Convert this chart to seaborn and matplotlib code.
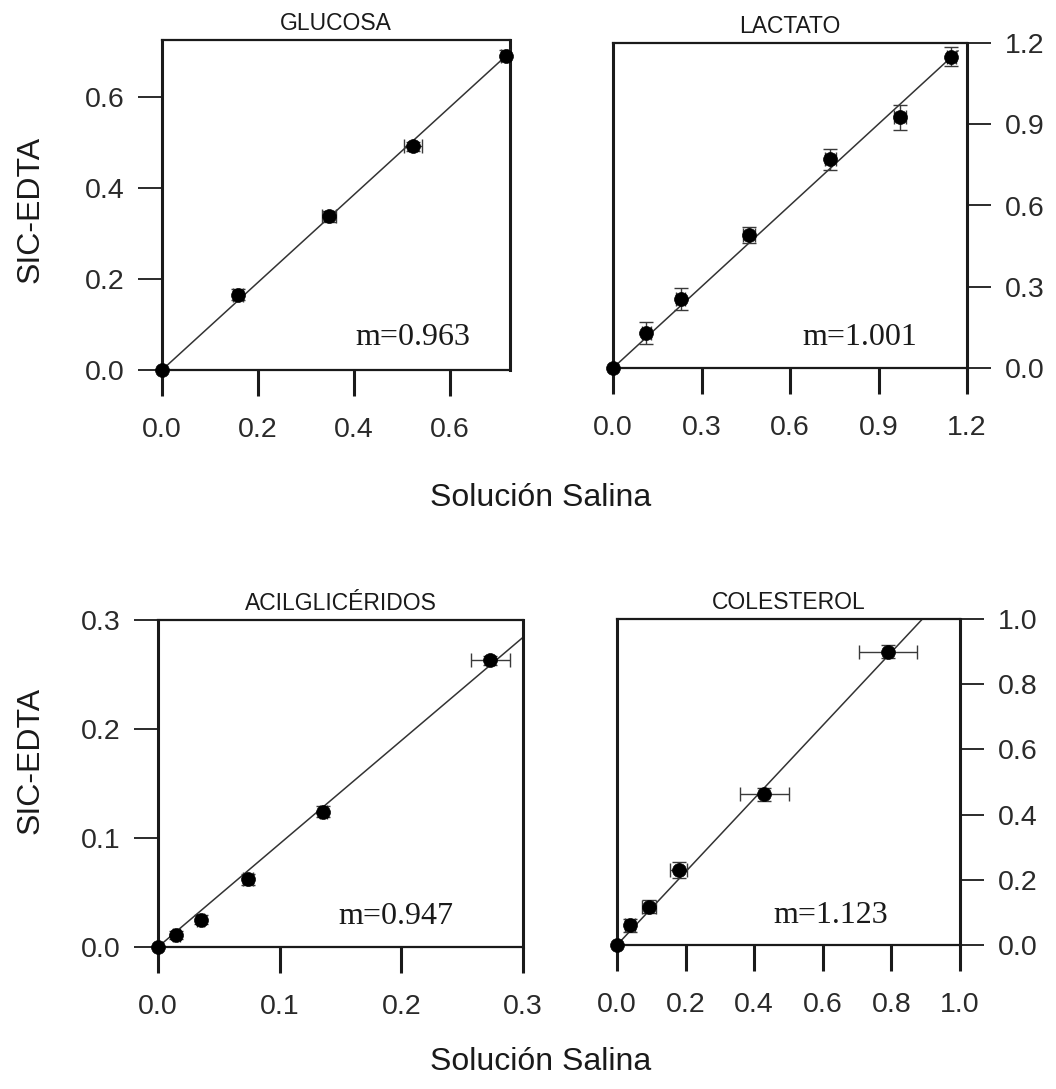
import numpy as np
import pandas as pd
import matplotlib
matplotlib.use("Agg")
import matplotlib.pyplot as plt
from matplotlib.ticker import FormatStrFormatter
import seaborn as sns

# ---------------- data ----------------
titles = ["GLUCOSA", "LACTATO", "ACILGLICÉRIDOS", "COLESTEROL"]
slopes = [0.963, 1.001, 0.947, 1.123]
slope_labels = ["m=0.963", "m=1.001", "m=0.947", "m=1.123"]

glu_x = [0.0, 0.158, 0.348, 0.523, 0.717]
glu_y = [0.0, 0.165, 0.338, 0.492, 0.690]
glu_xerr = [0.0, 0.010, 0.014, 0.019, 0.010]
glu_yerr = [0.0, 0.012, 0.012, 0.010, 0.012]

lac_x = [0.0, 0.113, 0.229, 0.460, 0.737, 0.973, 1.147]
lac_y = [0.0, 0.130, 0.255, 0.490, 0.770, 0.925, 1.150]
lac_xerr = [0.0, 0.015, 0.015, 0.020, 0.020, 0.020, 0.015]
lac_yerr = [0.0, 0.040, 0.040, 0.030, 0.040, 0.045, 0.035]

acil_x = [0.0, 0.015, 0.035, 0.074, 0.136, 0.273]
acil_y = [0.0, 0.011, 0.025, 0.062, 0.124, 0.263]
acil_xerr = [0.0, 0.003, 0.003, 0.004, 0.003, 0.016]
acil_yerr = [0.0, 0.004, 0.004, 0.005, 0.005, 0.004]

col_x = [0.0, 0.038, 0.093, 0.180, 0.430, 0.790]
col_y = [0.0, 0.061, 0.117, 0.230, 0.463, 0.900]
col_xerr = [0.0, 0.015, 0.020, 0.025, 0.072, 0.084]
col_yerr = [0.0, 0.020, 0.020, 0.025, 0.020, 0.020]

fit_xmax = [0.72, 1.17, 0.30, 0.89]

limits = [0.725, 1.2, 0.3, 1.0]
xticks = [[0.0, 0.2, 0.4, 0.6], [0.0, 0.3, 0.6, 0.9, 1.2],
          [0.0, 0.1, 0.2, 0.3], [0.0, 0.2, 0.4, 0.6, 0.8, 1.0]]
yticks = [[0.0, 0.2, 0.4, 0.6], [0.0, 0.3, 0.6, 0.9, 1.2],
          [0.0, 0.1, 0.2, 0.3], [0.0, 0.2, 0.4, 0.6, 0.8, 1.0]]

series = [
    (glu_x, glu_y, glu_xerr, glu_yerr),
    (lac_x, lac_y, lac_xerr, lac_yerr),
    (acil_x, acil_y, acil_xerr, acil_yerr),
    (col_x, col_y, col_xerr, col_yerr),
]

# ---------------- style ----------------
sns.set_theme(style="ticks")
plt.rcParams['font.family'] = ['Liberation Sans', 'DejaVu Sans']

W, H = 1056, 1089
fig = plt.figure(figsize=(W / 100, H / 100), dpi=100)

# axes boxes in pixels: left, top, right, bottom
boxes_px = [(162, 40, 510, 370), (613, 43, 967, 368),
            (158, 620, 523, 947), (617, 619, 960, 945)]
text_pos = [(0.885, 0.097), (0.86, 0.095), (0.81, 0.092), (0.79, 0.092)]
ink = "#1a1a1a"
tick_ink = "#2a2a2a"

for i, (l, t, r, b) in enumerate(boxes_px):
    ax = fig.add_axes([l / W, 1 - b / H, (r - l) / W, (b - t) / H])
    x, y, xe, ye = series[i]
    df = pd.DataFrame({"x": x, "y": y})

    # fit line
    fx = np.array([0.0, fit_xmax[i]])
    fit_df = pd.DataFrame({"x": fx, "y": slopes[i] * fx})
    sns.lineplot(data=fit_df, x="x", y="y", ax=ax, color="#333333",
                 lw=1.1, zorder=2)

    # error bars
    ax.errorbar(x, y, xerr=xe, yerr=ye, fmt="none", ecolor="#3a3a3a",
                elinewidth=1.0, capsize=5, capthick=1.0, zorder=3)

    # points
    sns.scatterplot(data=df, x="x", y="y", ax=ax, color="black", s=100,
                    edgecolor="black", linewidth=0.5, zorder=4, clip_on=False)

    lim = limits[i]
    ax.set_xlim(0, lim)
    ax.set_ylim(0, lim)
    ax.set_xticks(xticks[i])
    ax.set_yticks(yticks[i])
    ax.xaxis.set_major_formatter(FormatStrFormatter('%.1f'))
    ax.yaxis.set_major_formatter(FormatStrFormatter('%.1f'))
    ax.set_xlabel("")
    ax.set_ylabel("")

    for side in ["left", "right"]:
        ax.spines[side].set_visible(True)
        ax.spines[side].set_linewidth(2.2)
        ax.spines[side].set_color(ink)
    for side in ["top", "bottom"]:
        ax.spines[side].set_visible(True)
        ax.spines[side].set_linewidth(1.6)
        ax.spines[side].set_color(ink)

    ax.tick_params(axis="x", direction="out", length=19, width=2.2,
                   pad=15, labelsize=20.5, colors=ink, labelcolor=tick_ink)
    ax.tick_params(axis="y", direction="out", length=17, width=1.3,
                   pad=10, labelsize=20.5, colors=ink, labelcolor=tick_ink)
    if i in (1, 3):
        ax.yaxis.tick_right()
        ax.tick_params(axis="y", left=False, right=True, labelleft=False,
                       labelright=True)

    ax.set_title(titles[i], fontsize=16.5, color=ink, pad=7)
    tx, ty = text_pos[i]
    ax.text(tx, ty, slope_labels[i], transform=ax.transAxes, ha="right",
            va="center", fontsize=23, family="Liberation Serif", color=ink)

# shared labels
fig.text(31 / W, 1 - 209 / H, "SIC-EDTA", rotation=90, ha="center",
         va="center", fontsize=23, color=ink)
fig.text(31 / W, 1 - 760 / H, "SIC-EDTA", rotation=90, ha="center",
         va="center", fontsize=23, color=ink)
fig.text(541 / W, 1 - 498 / H, "Solución Salina", ha="center",
         va="center", fontsize=23, color=ink)
fig.text(541 / W, 1 - 1062 / H, "Solución Salina", ha="center",
         va="center", fontsize=23, color=ink)

fig.savefig("out.png", dpi=100, facecolor="white")
